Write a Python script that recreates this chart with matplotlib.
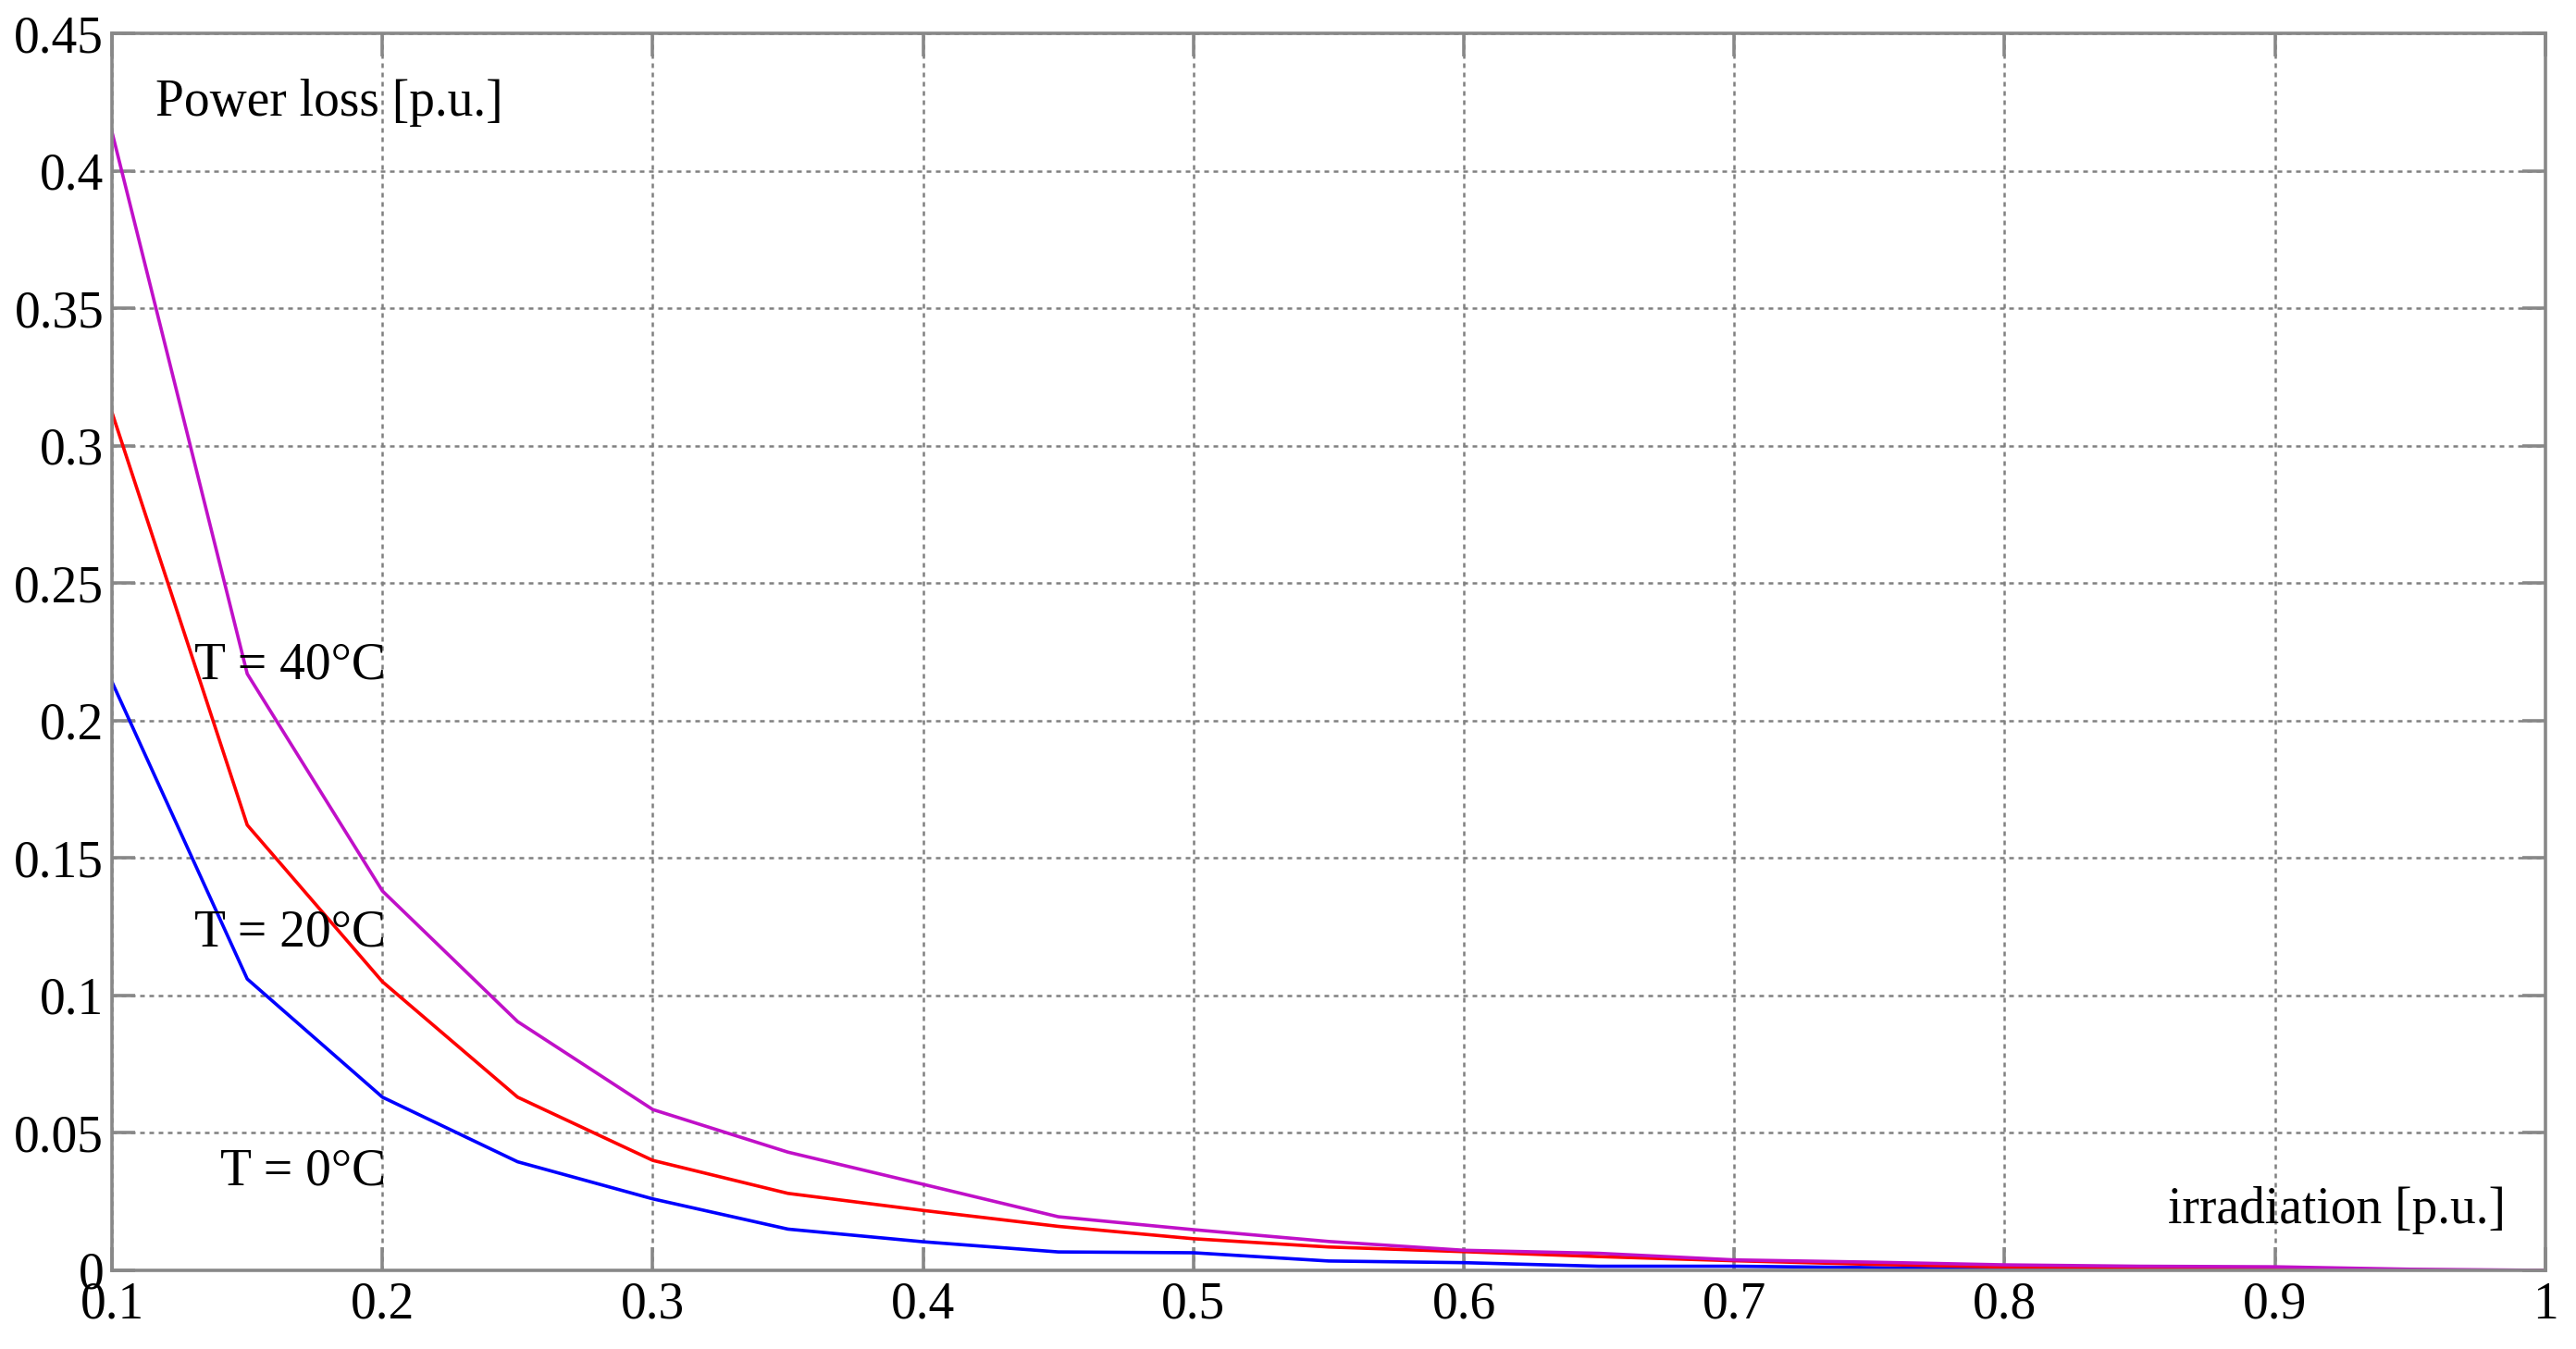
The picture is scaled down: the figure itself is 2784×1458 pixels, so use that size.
import matplotlib
matplotlib.use("Agg")
import matplotlib.pyplot as plt

# irradiation [p.u.]
irr = [0.10, 0.15, 0.20, 0.25, 0.30, 0.35, 0.40, 0.45, 0.50, 0.55,
       0.60, 0.65, 0.70, 0.75, 0.80, 0.85, 0.90, 0.95, 1.00]

# power loss [p.u.] per temperature
loss_T0 = [0.214, 0.106, 0.063, 0.0395, 0.026, 0.015, 0.0104, 0.0067, 0.0064, 0.0034,
           0.0028, 0.0015, 0.0015, 0.0010, 0.0003, 0.0001, 0.0, 0.0, 0.0]
loss_T20 = [0.312, 0.162, 0.105, 0.063, 0.040, 0.028, 0.0218, 0.016, 0.0115, 0.0085,
            0.0068, 0.0050, 0.0035, 0.0022, 0.0012, 0.0009, 0.0004, 0.0001, 0.0]
loss_T40 = [0.414, 0.217, 0.138, 0.0905, 0.0585, 0.043, 0.0313, 0.0195, 0.0148, 0.0105,
            0.0073, 0.0062, 0.0038, 0.0030, 0.0020, 0.0015, 0.0013, 0.0004, 0.0]

xticks = [0.1, 0.2, 0.3, 0.4, 0.5, 0.6, 0.7, 0.8, 0.9, 1.0]
xlabels = ["0.1", "0.2", "0.3", "0.4", "0.5", "0.6", "0.7", "0.8", "0.9", "1"]
yticks = [0, 0.05, 0.1, 0.15, 0.2, 0.25, 0.3, 0.35, 0.4, 0.45]
ylabels = ["0", "0.05", "0.1", "0.15", "0.2", "0.25", "0.3", "0.35", "0.4", "0.45"]

plt.rcParams["font.family"] = ["Liberation Serif", "DejaVu Serif"]

fig = plt.figure(figsize=(13.92, 7.29), dpi=200)
ax = fig.add_axes([0.0435, 0.0583, 0.9446, 0.9170])

ax.plot(irr, loss_T0, color="#0000ff", lw=1.3)
ax.plot(irr, loss_T20, color="#ff0000", lw=1.3)
ax.plot(irr, loss_T40, color="#c010c8", lw=1.3)

ax.set_xlim(0.1, 1.0)
ax.set_ylim(0, 0.45)
ax.set_xticks(xticks)
ax.set_xticklabels(xlabels)
ax.set_yticks(yticks)
ax.set_yticklabels(ylabels)

ax.grid(True, color="#808080", linestyle=(0, (2, 2)), linewidth=0.9)
for s in ax.spines.values():
    s.set_color("#888888")
    s.set_linewidth(1.3)
ax.tick_params(direction="in", length=9, width=1.3, color="#888888",
               top=True, right=True, labelsize=20)
ax.tick_params(axis="x", pad=4.3)
ax.tick_params(axis="y", pad=3.2)

# texts
ax.text(0.116, 0.42, "Power loss [p.u.]", fontsize=20, va="baseline")
ax.text(0.2013, 0.2154, "T = 40°C", fontsize=20, ha="right", va="baseline")
ax.text(0.2013, 0.118, "T = 20°C", fontsize=20, ha="right", va="baseline")
ax.text(0.2013, 0.0313, "T = 0°C", fontsize=20, ha="right", va="baseline")
ax.text(0.9853, 0.0172, "irradiation [p.u.]", fontsize=20, ha="right", va="baseline")

fig.savefig("out.png", dpi=200)
